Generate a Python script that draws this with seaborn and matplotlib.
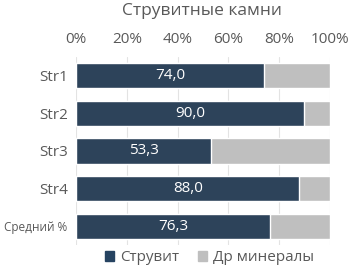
import pandas as pd
import seaborn as sns
import matplotlib.pyplot as plt
from matplotlib.patches import Patch

# Data
categories = ['Str1', 'Str2', 'Str3', 'Str4', 'Средний %']
struvite = [74.0, 90.0, 53.3, 88.0, 76.3]
other = [100 - v for v in struvite]

df = pd.DataFrame({'sample': categories, 'struvite': struvite, 'other': other})
df['total'] = df['struvite'] + df['other']

navy = '#264361'
grey = '#bfbfbf'
text_col = '#595959'

sns.set_style('white')
plt.rcParams['font.family'] = ['Open Sans', 'DejaVu Sans']

fig = plt.figure(figsize=(3.49, 2.70), dpi=100)
ax = fig.add_axes([0.218, 0.093, 0.727, 0.696])

# stacked bars: grey total behind, navy struvite in front
sns.barplot(data=df, x='total', y='sample', color=grey, width=0.67, ax=ax, orient='h')
sns.barplot(data=df, x='struvite', y='sample', color=navy, width=0.67, ax=ax, orient='h')

for i, v in enumerate(struvite):
    ax.text(v / 2, i, f'{v:.1f}'.replace('.', ','), ha='center', va='center',
            color='white', fontsize=11)

ax.set_xlim(0, 100)
ax.xaxis.tick_top()
ax.set_xticks([0, 20, 40, 60, 80, 100])
ax.set_xticklabels(['0%', '20%', '40%', '60%', '80%', '100%'])
ax.tick_params(axis='x', length=0, pad=7, labelsize=11, colors=text_col)
ax.tick_params(axis='y', length=0, pad=6, labelsize=11, colors=text_col)
ax.set_ylabel('')
ax.set_xlabel('')
ax.grid(axis='x', color='#e3e3e3', linewidth=0.8)
ax.set_axisbelow(True)
for s in ax.spines.values():
    s.set_visible(False)
ax.get_yticklabels()[-1].set_fontsize(8.5)

fig.text(0.58, 0.958, 'Струвитные камни', ha='center', va='center',
         fontsize=12.5, color=text_col)

handles = [Patch(color=navy, label='Струвит'), Patch(color=grey, label='Др минералы')]
fig.legend(handles=handles, loc='center', bbox_to_anchor=(0.6, 0.045), ncol=2,
           frameon=False, fontsize=11, handlelength=0.6, handleheight=0.6,
           handletextpad=0.4, columnspacing=1.2, labelcolor=text_col)

fig.savefig('out.png', dpi=100)
